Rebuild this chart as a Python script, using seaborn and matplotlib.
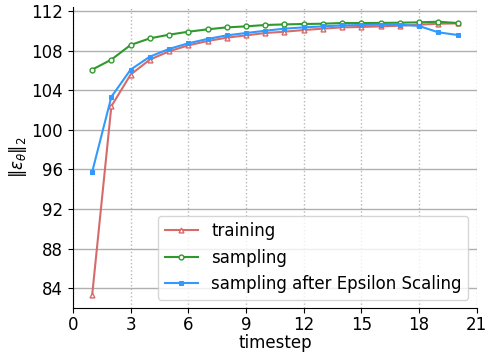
import numpy as np
import pandas as pd
import seaborn as sns
import matplotlib.pyplot as plt

# values
timestep = list(range(1, 21))
training = [83.27, 102.38, 105.58, 107.09, 107.93, 108.53, 108.97, 109.31, 109.54, 109.78,
            109.91, 110.08, 110.22, 110.35, 110.39, 110.45, 110.52, 110.62, 110.72, 110.75]
sampling = [106.08, 107.09, 108.57, 109.24, 109.61, 109.91, 110.15, 110.35, 110.45, 110.59,
            110.65, 110.69, 110.72, 110.79, 110.79, 110.80, 110.82, 110.86, 110.92, 110.79]
sampling_es = [95.73, 103.33, 106.08, 107.39, 108.17, 108.74, 109.18, 109.54, 109.78, 110.01,
               110.22, 110.35, 110.45, 110.55, 110.59, 110.62, 110.62, 110.49, 109.85, 109.58]

x_ticks = list(range(0, 22, 3))
y_ticks = list(range(84, 113, 4))

plt.rcParams['font.family'] = ['DejaVu Sans']

fig, ax = plt.subplots(figsize=(4.86, 3.54), dpi=100)
fig.subplots_adjust(left=0.150, right=0.981, top=0.980, bottom=0.130)

sns.lineplot(x=timestep, y=training, ax=ax, color='#d66b6b', marker='^', markersize=3.5,
             markerfacecolor='white', markeredgecolor='#d66b6b', markeredgewidth=1,
             linewidth=1.5, label='training')
sns.lineplot(x=timestep, y=sampling, ax=ax, color='#2e9a2e', marker='o', markersize=3.5,
             markerfacecolor='white', markeredgecolor='#2e9a2e', markeredgewidth=1,
             linewidth=1.5, label='sampling')
sns.lineplot(x=timestep, y=sampling_es, ax=ax, color='#3399ff', marker='s', markersize=2.5,
             markeredgecolor='#3399ff', linewidth=1.5, label='sampling after Epsilon Scaling')

ax.set_xlim(0, 21)
ax.set_ylim(82, 112.4)
ax.set_xticks(x_ticks)
ax.set_yticks(y_ticks)
ax.tick_params(labelsize=12, direction='out', length=3.5)
ax.tick_params(axis='x', pad=2)
ax.set_xlabel('timestep', fontsize=12, labelpad=0)
ax.set_ylabel(r'$\|\epsilon_\theta\|_2$', fontsize=12, labelpad=2)

ax.yaxis.grid(True, color='#b0b0b0', linestyle='-', linewidth=1)
ax.xaxis.grid(True, color='#b8b8b8', linestyle=':', linewidth=1)
ax.set_axisbelow(True)
sns.despine(ax=ax)

ax.legend(loc='lower right', fontsize=12, frameon=True, handlelength=2, borderaxespad=0.5)

plt.savefig('out.png', dpi=100)
